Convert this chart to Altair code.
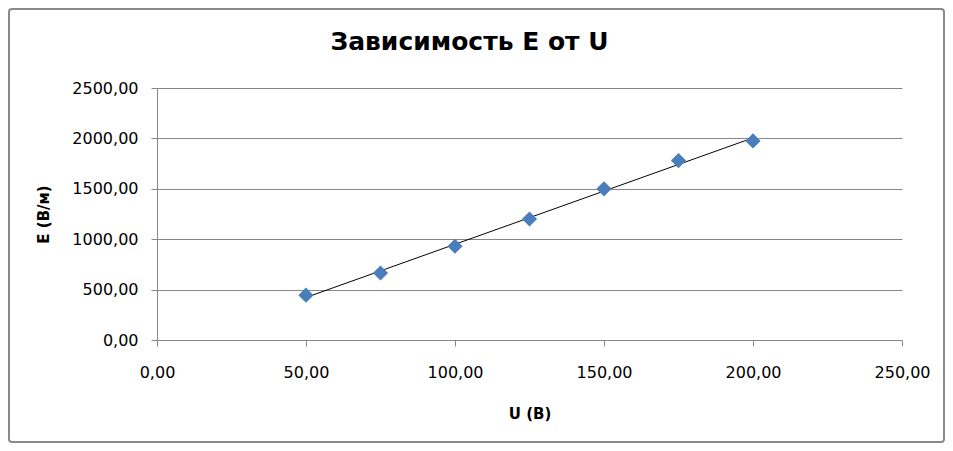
import altair as alt
import pandas as pd

U = [50, 75, 100, 125, 150, 175, 200]
E = [445, 665, 930, 1200, 1500, 1780, 1975]
x_ticks = [0, 50, 100, 150, 200, 250]
y_ticks = [0, 500, 1000, 1500, 2000, 2500]

df = pd.DataFrame({"U": U, "E": E})

FONT = "DejaVu Sans"
GRAY = "#868686"
label_expr = "replace(format(datum.value, '.2f'), '.', ',')"

x_enc = alt.X(
    "U:Q",
    scale=alt.Scale(domain=[0, 250], nice=False, zero=True),
    axis=alt.Axis(
        values=x_ticks, labelExpr=label_expr, title="U (В)", grid=False,
        tickSize=6, labelPadding=18, titlePadding=26, labelFlush=False,
    ),
)
y_enc = alt.Y(
    "E:Q",
    scale=alt.Scale(domain=[0, 2500], nice=False),
    axis=alt.Axis(
        values=y_ticks, labelExpr=label_expr, title="E (В/м)", grid=True,
        tickSize=6, labelPadding=13, titlePadding=20, labelFlush=False,
    ),
)

base = alt.Chart(df)

points = base.mark_point(shape="diamond", filled=True, size=230, color="#4a7ebb", opacity=1).encode(
    x=x_enc, y=y_enc
)

trend = base.transform_regression("U", "E", method="linear").mark_line(
    color="#000000", strokeWidth=1
).encode(x="U:Q", y="E:Q")

border = alt.Chart(alt.Data(values=[{"a": 1}])).mark_rect(
    fill="transparent", stroke="#8a8a8a", strokeWidth=2, cornerRadius=3
).encode(
    x=alt.value(-148), x2=alt.value(787), y=alt.value(-79), y2=alt.value(354)
)

chart = alt.layer(trend, points, border).properties(
    width=745,
    height=252,
    background="white",
    autosize=alt.AutoSizeParams(type="none"),
    padding={"left": 149, "top": 80, "right": 43, "bottom": 103},
    title=alt.TitleParams(
        text="Зависимость E от U", font=FONT, fontSize=25, fontWeight="bold",
        color="#000000", anchor="middle", dx=-60, offset=-67, baseline="alphabetic",
    ),
).configure_view(stroke=None).configure_axis(
    labelFont=FONT, labelFontSize=16, labelColor="#000000",
    titleFont=FONT, titleFontSize=15, titleFontWeight="bold", titleColor="#000000",
    domainColor=GRAY, tickColor=GRAY, gridColor=GRAY, gridOpacity=1,
    domainWidth=1, tickWidth=1, gridWidth=1,
)

chart.save("out.html", embed_options={"renderer": "svg", "actions": False})
